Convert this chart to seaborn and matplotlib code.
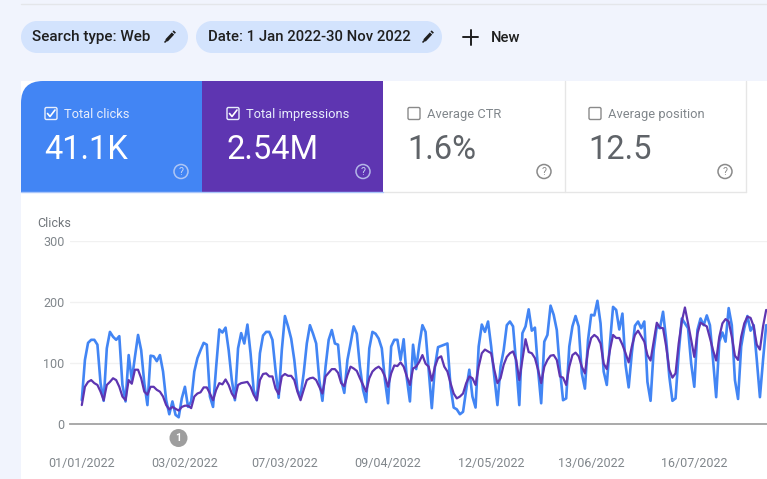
import numpy as np
import pandas as pd
import matplotlib
matplotlib.use("Agg")
import matplotlib.pyplot as plt
from matplotlib.patches import FancyBboxPatch, Rectangle, Circle, PathPatch
from matplotlib.path import Path
import seaborn as sns

clicks = [39,105,133,138,138,130,67,38,124,151,143,138,144,64,37,113,72,110,146,121,67,31,112,111,103,113,86,39,
          16,37,15,11,42,61,28,37,86,108,121,133,130,45,28,94,155,150,158,121,72,39,124,149,132,163,116,56,
          39,116,145,151,151,138,88,43,121,177,160,140,105,56,45,83,132,162,148,132,72,38,94,138,154,132,130,72,
          51,105,132,160,148,94,56,36,124,151,148,140,124,72,34,127,138,138,105,139,75,37,130,90,130,162,151,89,
          26,94,126,128,130,132,61,27,24,16,20,56,89,45,27,127,163,151,168,127,78,31,94,121,162,168,160,99,
          31,149,160,188,153,158,89,34,135,146,194,179,154,89,39,42,127,160,177,160,83,58,138,179,178,202,165,86,
          64,132,192,187,155,181,97,60,116,161,168,157,168,69,38,121,160,157,184,138,78,38,42,116,173,165,157,99,
          61,154,173,162,178,162,105,44,135,150,135,190,162,72,41,127,157,177,153,162,105,44,105,162]
impressions = [31,61,69,72,67,64,53,39,64,69,75,72,61,45,39,72,66,89,89,75,53,48,61,61,56,53,45,31,
               24,28,25,22,28,30,30,26,45,50,52,60,60,50,39,56,67,65,73,64,50,42,64,67,68,69,61,48,
               39,72,82,83,78,78,58,49,78,82,79,79,72,53,39,56,72,75,76,72,61,50,78,84,90,90,84,67,
               62,80,94,91,87,75,64,53,75,86,91,94,89,78,61,83,96,95,101,94,78,64,91,94,102,113,99,94,
               71,94,108,111,94,86,67,50,42,45,50,67,78,75,64,94,116,122,119,116,89,67,75,97,110,116,119,105,
               72,105,139,118,116,108,89,67,94,105,112,113,105,78,76,64,94,113,117,111,94,83,121,141,146,142,132,99,
               90,121,146,141,141,130,116,101,127,146,153,144,135,113,104,135,166,158,157,127,89,76,83,132,168,191,165,138,
               110,148,166,163,160,141,121,104,143,165,172,168,143,112,105,143,165,176,174,160,130,122,160,187]
tick_dates = ["2022-01-01","2022-02-03","2022-03-07","2022-04-09","2022-05-12","2022-06-13","2022-07-16"]
y_ticks = [0,100,200,300]
chip_labels = ["Search type: Web","Date: 1 Jan 2022-30 Nov 2022","New"]
card_titles = ["Total clicks","Total impressions","Average CTR","Average position"]
card_values = ["41.1K","2.54M","1.6%","12.5"]

dates = pd.date_range("2022-01-01", periods=len(clicks), freq="D")
df = pd.DataFrame({"date":dates,"clicks":clicks,"impressions":impressions})

sns.set_theme(style="white")
plt.rcParams['font.family'] = ['Roboto','DejaVu Sans']
W,H = 767,479
BLUE,PURPLE,BG = "#4285f4","#5e35b1","#f1f4fd"
fig = plt.figure(figsize=(W/100,H/100),dpi=100,facecolor=BG)

ui = fig.add_axes([0,0,1,1],zorder=0)
ui.set_xlim(0,W); ui.set_ylim(H,0); ui.axis("off")

def pill(x0,x1,y0,y1):
    r=(y1-y0)/2
    ui.add_patch(Rectangle((x0+r,y0),x1-x0-2*r,y1-y0,fc="#d3e3fd",ec="none"))
    ui.add_patch(Circle((x0+r,y0+r),r,fc="#d3e3fd",ec="none"))
    ui.add_patch(Circle((x1-r,y0+r),r,fc="#d3e3fd",ec="none"))

def pencil(cx,cy):
    ui.plot([cx-3.5,cx+3],[cy+4,cy-3],color="#1f1f1f",lw=2.3,solid_capstyle="butt")
    ui.plot([cx+3.6,cx+4.8],[cy-3.8,cy-5],color="#1f1f1f",lw=2.3,solid_capstyle="butt")
    ui.plot([cx-5,cx-3.5],[cy+5.5,cy+4],color="#1f1f1f",lw=1.2)

# top rule and chips
ui.plot([21,W],[4,4],color="#e4e6ea",lw=1)
ui.add_patch(Rectangle((0,81),W,H-81,fc="white",ec="none",zorder=0))
ui.add_patch(Rectangle((0,81),21,H-81,fc=BG,ec="none",zorder=0.5))
pill(21,188,21,53); pill(196,442,21,53)
chip_kw=dict(color="#1f1f1f",va="center",fontweight="medium")
ui.text(32,37,chip_labels[0],fontsize=11,**chip_kw); pencil(170,36.5)
ui.text(208.5,37,chip_labels[1],fontsize=10.75,**chip_kw); pencil(428,36.5)
ui.plot([463,478],[37,37],color="#1f1f1f",lw=1.4); ui.plot([470.5,470.5],[29.5,44.5],color="#1f1f1f",lw=1.4)
ui.text(490.5,37.5,chip_labels[2],color="#1f1f1f",va="center",fontweight="medium",fontsize=10.6)

# cards
rr=22
verts=[(21,192),(21,81+rr),(21,81),(21+rr,81),(202,81),(202,192),(21,192)]
codes=[Path.MOVETO,Path.LINETO,Path.CURVE3,Path.CURVE3,Path.LINETO,Path.LINETO,Path.CLOSEPOLY]
ui.add_patch(PathPatch(Path(verts,codes),fc=BLUE,ec="none"))
ui.add_patch(Rectangle((202,81),181,111,fc=PURPLE,ec="none"))
ui.plot([564.5,564.5],[81,192],color="#e6e6e6",lw=1)
ui.plot([746,746],[81,192],color="#e6e6e6",lw=1)
ui.plot([383,746],[192,192],color="#e6e6e6",lw=1)
ui.plot([21,383],[192,192],color="#a9c6fa",lw=1)
cards=[(45,True,"white"),(227,True,"white"),(408,False,"#5f6368"),(589,False,"#5f6368")]
for (x,checked,col),title,val in zip(cards,card_titles,card_values):
    tc = "#e8eefc" if checked else "#80868b"
    ui.add_patch(FancyBboxPatch((x,107.5),12,12,boxstyle="round,pad=0,rounding_size=1.5",fc="none",
                                ec=tc if checked else "#8a8a8a",lw=1))
    if checked:
        ui.plot([x+2.5,x+5,x+10],[113.5,116.5,110],color="white",lw=1.2)
    ui.text(x+19,114,title,fontsize=9.3,color=tc,va="center")
    ui.text(x-1,150,val,fontsize=23.5,color=col,va="center")
    qc = "#c9d6f5" if checked else "#8a8a8a"
    ui.add_patch(Circle((x+136,171.5),7,fc="none",ec=qc,lw=1.1,alpha=0.8 if checked else 1))
    ui.text(x+136,171.7,"?",fontsize=7.5,color=qc,ha="center",va="center")

# annotation marker
ui.add_patch(Circle((178.5,438),9,fc="#9e9e9e",ec="none"))
ui.text(178.5,438.3,"1",fontsize=7.5,color="white",ha="center",va="center",fontweight="bold")
ui.text(37,223.5,"Clicks",fontsize=9,color="#70757a",va="center")

# chart
left,right,top,bottom = 70,W,241,424
ax = fig.add_axes([left/W,1-bottom/H,(right-left)/W,(bottom-top)/H],zorder=2)
ax.patch.set_alpha(0)
sns.lineplot(data=df,x="date",y="clicks",color=BLUE,lw=1.9,ax=ax)
sns.lineplot(data=df,x="date",y="impressions",color=PURPLE,lw=1.6,ax=ax)
d0 = pd.Timestamp("2022-01-01")
ax.set_xlim(d0+pd.Timedelta(days=(left-81.8)/3.125), d0+pd.Timedelta(days=(right-81.8)/3.125))
ax.set_ylim(0,300)
ax.set_xlabel(""); ax.set_ylabel("")
ax.set_yticks(y_ticks)
ticks=pd.to_datetime(tick_dates)
ax.set_xticks(ticks)
ax.set_xticklabels([t.strftime("%d/%m/%Y") for t in ticks])
ax.tick_params(axis="both",length=0,labelsize=9,labelcolor="#80868b")
ax.tick_params(axis="x",pad=24)
ax.tick_params(axis="y",pad=4)
ax.grid(axis="y",color="#f1f1f1",lw=1); ax.grid(axis="x",visible=False)
ax.set_axisbelow(True)
for s in ["top","left","right"]: ax.spines[s].set_visible(False)
ax.spines["bottom"].set_color("#a3a3a3"); ax.spines["bottom"].set_linewidth(1.3)

fig.savefig("out.png",dpi=100,facecolor=BG)
